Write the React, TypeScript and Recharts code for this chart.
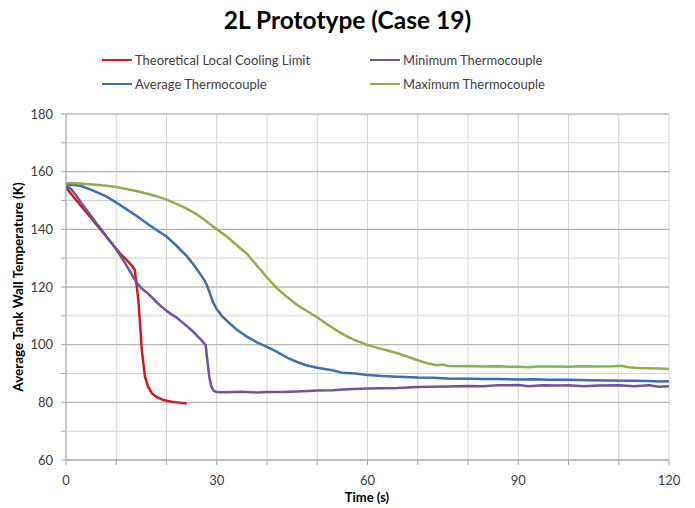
import {
  LineChart,
  Line,
  XAxis,
  YAxis,
  CartesianGrid,
  Legend,
  ReferenceLine,
} from "recharts";

// [time (s), temperature (K)]
const coolingLimit: [number, number][] = [
  [0, 154.5], [2, 150.2], [4, 146], [6, 141.8], [8, 137.5], [10, 133.2],
  [11, 131.2], [12, 129.5], [12.8, 128], [13.3, 127], [13.7, 125.9],
  [14.4, 115.5], [15.1, 98], [15.7, 89], [16.3, 85.5], [17.1, 83.1], [18, 81.9],
  [19.4, 80.8], [21, 80.2], [22.5, 79.9], [24, 79.6],
];

const minThermo: [number, number][] = [
  [0, 155], [1, 154], [2, 151.8], [3, 149.3], [4, 147], [5, 144.6], [6, 142.2],
  [7, 140], [8, 137.6], [9, 135.4], [10, 133], [11, 130.4], [12, 127.6],
  [13, 124.6], [14, 121.6], [15, 119.6], [16, 118.2], [17, 116.6], [18, 114.8],
  [19, 113.2], [20, 111.8], [21, 110.5], [22, 109.4], [23, 108], [24, 106.5],
  [25, 105], [26, 103.2], [27, 101.5], [27.8, 99.8], [28.1, 95], [28.5, 89],
  [28.9, 85.5], [29.4, 84], [30, 83.6], [32, 83.5], [35, 83.7], [38, 83.4],
  [40, 83.6], [43, 83.6], [46, 83.8], [50, 84.1], [53, 84.2], [56, 84.5],
  [60, 84.8], [63, 84.9], [66, 85.0], [70, 85.3], [73, 85.4], [76, 85.5],
  [80, 85.7], [83, 85.6], [86, 85.9], [90, 86.0], [92, 85.6], [95, 85.9],
  [98, 85.8], [100, 85.9], [103, 85.6], [106, 85.8], [110, 85.9], [113, 85.6],
  [116, 85.9], [118, 85.4], [120, 85.6],
];

const avgThermo: [number, number][] = [
  [0, 155.3], [1, 155.5], [2, 155.3], [3, 155], [4, 154.4], [5, 153.7],
  [6, 153], [8, 151.4], [10, 149.3], [12, 147], [14, 144.7], [16, 142.2],
  [18, 139.8], [20, 137.5], [22, 134.3], [24, 130.8], [25.3, 128], [26.5, 125],
  [27.5, 122.5], [28, 120.8], [28.5, 118.5], [29.2, 115], [30, 112.3], [31, 110],
  [32.5, 107.5], [34, 105.2], [36, 102.8], [38, 100.8], [40, 99.2], [42, 97.5],
  [44, 95.5], [46, 94], [48, 92.8], [50, 92], [53, 91.1], [55, 90.3], [57.5, 90],
  [60, 89.5], [63, 89.1], [66, 88.9], [70, 88.6], [73, 88.5], [76, 88.3],
  [80, 88.2], [83, 88.1], [86, 88.1], [90, 87.9], [93, 88.0], [96, 87.8],
  [100, 87.8], [104, 87.7], [108, 87.6], [112, 87.5], [116, 87.4], [118, 87.2],
  [120, 87.3],
];

const maxThermo: [number, number][] = [
  [0, 156], [2, 156], [4, 155.7], [6, 155.5], [8, 155.1], [10, 154.7], [12, 154],
  [14, 153.3], [16, 152.4], [18, 151.5], [20, 150.3], [22, 148.8], [24, 147.2],
  [26, 145.2], [28, 142.7], [30, 140], [32, 137.5], [34, 134.5], [36, 131.5],
  [38, 127.5], [40, 123.3], [42, 119.5], [44, 116.5], [46, 113.8], [48, 111.6],
  [50, 109.5], [52, 107], [54, 104.8], [56, 102.8], [58, 101.2], [60, 99.9],
  [62, 98.9], [64, 98], [66, 97], [68, 95.8], [70, 94.6], [72, 93.5], [74, 92.9],
  [75, 93.1], [76, 92.6], [78, 92.5], [80, 92.6], [83, 92.4], [86, 92.5],
  [88, 92.3], [90, 92.3], [92, 92.2], [94, 92.4], [97, 92.4], [100, 92.3],
  [103, 92.5], [106, 92.4], [109, 92.5], [110.5, 92.7], [112, 92.2], [114, 91.9],
  [116, 91.8], [118, 91.7], [120, 91.6],
];

const xTicks = [0, 10, 20, 30, 40, 50, 60, 70, 80, 90, 100, 110, 120];
const yTicks = [60, 70, 80, 90, 100, 110, 120, 130, 140, 150, 160, 170, 180];
const yMajor = [60, 80, 100, 120, 140, 160, 180];

const series = [
  { name: "Theoretical Local Cooling Limit", color: "#d01c1c", points: coolingLimit },
  { name: "Minimum Thermocouple", color: "#7052a0", points: minThermo },
  { name: "Average Thermocouple", color: "#3d6eb4", points: avgThermo },
  { name: "Maximum Thermocouple", color: "#8db04a", points: maxThermo },
];

const FONT = "Lato, 'Open Sans', sans-serif";

function LegendBox() {
  // left column: cooling limit / average, right column: minimum / maximum
  const slots = [
    { s: series[0], left: 102, top: 0 },
    { s: series[1], left: 370, top: 0 },
    { s: series[2], left: 102, top: 24 },
    { s: series[3], left: 370, top: 24 },
  ];
  return (
    <div style={{ position: "relative", width: 695, height: 40 }}>
      {slots.map(({ s, left, top }) => (
        <div
          key={s.name}
          style={{
            position: "absolute",
            left,
            top,
            display: "flex",
            alignItems: "center",
            fontFamily: FONT,
            fontSize: 13,
            color: "#404040",
            whiteSpace: "nowrap",
          }}
        >
          <span
            style={{
              display: "inline-block",
              width: 30,
              height: 2.5,
              background: s.color,
              marginRight: 3,
            }}
          />
          {s.name}
        </div>
      ))}
    </div>
  );
}

function YLabel() {
  return (
    <text
      x={23}
      y={287}
      transform="rotate(-90 23 287)"
      textAnchor="middle"
      fontFamily={FONT}
      fontWeight="bold"
      fontSize={13.5}
      fill="#000"
    >
      Average Tank Wall Temperature (K)
    </text>
  );
}

function XLabel() {
  return (
    <text
      x={367}
      y={502}
      textAnchor="middle"
      fontFamily={FONT}
      fontWeight="bold"
      fontSize={13}
      fill="#000"
    >
      Time (s)
    </text>
  );
}

export default function App() {
  return (
    <div
      style={{
        position: "absolute",
        left: 0,
        top: 0,
        width: 695,
        height: 508,
        background: "#fff",
      }}
    >
      <div
        style={{
          position: "absolute",
          top: 5,
          left: 0,
          width: 695,
          textAlign: "center",
          fontFamily: FONT,
          fontWeight: "bold",
          fontSize: 24.5,
          color: "#000",
        }}
      >
        2L Prototype (Case 19)
      </div>
      <LineChart
        width={695}
        height={508}
        margin={{ top: 74, right: 26, bottom: 18, left: 0 }}
      >
        <CartesianGrid stroke="#d4d4d4" strokeWidth={1} />
        {yMajor.map((v) => (
          <ReferenceLine key={v} y={v} stroke="#b0b0b0" strokeWidth={1} />
        ))}
        <XAxis
          type="number"
          dataKey="t"
          domain={[0, 120]}
          ticks={xTicks}
          interval={0}
          allowDataOverflow
          height={30}
          tickSize={5}
          tickMargin={11}
          stroke="#a6a6a6"
          tick={{ fill: "#404040", fontSize: 13, fontFamily: FONT }}
          tickFormatter={(v: number) => (v % 30 === 0 ? String(v) : "")}
          label={<XLabel />}
        />
        <YAxis
          type="number"
          domain={[60, 180]}
          ticks={yTicks}
          interval={0}
          width={66}
          tickSize={5}
          tickMargin={8}
          stroke="#a6a6a6"
          tick={{ fill: "#404040", fontSize: 13, fontFamily: FONT }}
          tickFormatter={(v: number) => (v % 20 === 0 ? String(v) : "")}
          label={<YLabel />}
        />
        <Legend
          layout="vertical"
          align="center"
          verticalAlign="top"
          wrapperStyle={{ top: 52, left: 0, width: 695 }}
          content={() => <LegendBox />}
        />
        {series.map((s) => (
          <Line
            key={s.name}
            name={s.name}
            data={s.points.map(([t, v]) => ({ t, v }))}
            dataKey="v"
            type="linear"
            stroke={s.color}
            strokeWidth={2.5}
            dot={false}
            activeDot={false}
            isAnimationActive={false}
          />
        ))}
      </LineChart>
    </div>
  );
}
